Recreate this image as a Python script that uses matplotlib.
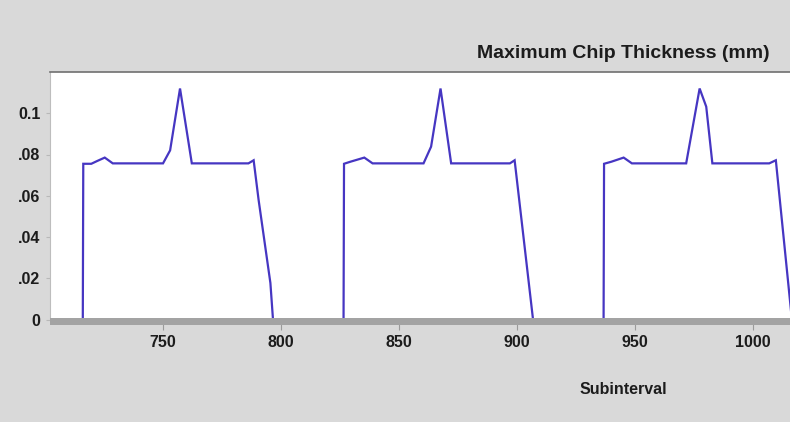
import matplotlib
matplotlib.use("Agg")
import matplotlib.pyplot as plt
from matplotlib.patches import Rectangle

# ---- data ----
cycle1_x = [716.0, 716.2, 719.6, 722.0, 725.3, 728.7, 750.0, 753.0, 757.2, 762.2, 786.2, 788.4, 790.5, 795.5, 796.6]
cycle1_y = [0.0, 0.0755, 0.0755, 0.0768, 0.0785, 0.0757, 0.0757, 0.0820, 0.1120, 0.0757, 0.0757, 0.0772, 0.0580, 0.0177, 0.0]

cycle2_x = [826.5, 826.7, 829.4, 835.3, 838.8, 860.4, 863.6, 867.6, 872.1, 897.0, 899.0, 906.8]
cycle2_y = [0.0, 0.0755, 0.0765, 0.0785, 0.0757, 0.0757, 0.0838, 0.1120, 0.0757, 0.0757, 0.0772, 0.0]

cycle3_x = [936.7, 936.9, 940.0, 945.2, 948.7, 971.7, 977.4, 980.2, 982.8, 1006.9, 1009.7, 1016.5]
cycle3_y = [0.0, 0.0755, 0.0765, 0.0785, 0.0757, 0.0757, 0.1120, 0.1032, 0.0757, 0.0757, 0.0772, 0.0]

x_ticks = [750, 800, 850, 900, 950, 1000]
x_tick_labels = ["750", "800", "850", "900", "950", "1000"]
y_ticks = [0.0, 0.02, 0.04, 0.06, 0.08, 0.1]
y_tick_labels = ["0", ".02", ".04", ".06", ".08", "0.1"]

title_text = "Maximum Chip Thickness (mm)"
xlabel_text = "Subinterval"

# ---- figure ----
W, H = 790, 422
fig = plt.figure(figsize=(W / 100, H / 100), dpi=100)
fig.patch.set_facecolor("#d9d9d9")

ax_left, ax_right, ax_top, ax_bottom = 50, 790, 72, 319.5
ax = fig.add_axes([ax_left / W, 1 - ax_bottom / H, (ax_right - ax_left) / W, (ax_bottom - ax_top) / H])
ax.set_facecolor("white")

xs = cycle1_x + cycle2_x + cycle3_x
ys = cycle1_y + cycle2_y + cycle3_y
ax.plot(xs, ys, color="#4636c2", lw=1.6, solid_joinstyle="miter", clip_on=True)

ax.set_xlim(702.1, 1015.7)
ax.set_ylim(0, 0.12)

font = dict(family="Liberation Sans", weight="bold")
ax.set_xticks(x_ticks)
ax.set_xticklabels(x_tick_labels, fontsize=11.5, color="#1c1c1c", **font)
ax.set_yticks(y_ticks)
ax.set_yticklabels(y_tick_labels, fontsize=11.5, color="#1c1c1c", **font)
ax.tick_params(axis="x", direction="out", length=7, width=0.8, color="#9a9a9a", pad=4)
ax.tick_params(axis="y", direction="out", length=3, width=0.8, color="#b8b8b8", pad=4)

ax.spines["right"].set_visible(False)
ax.spines["top"].set_color("#707070")
ax.spines["top"].set_linewidth(1.2)
ax.spines["left"].set_color("#bdbdbd")
ax.spines["left"].set_linewidth(0.8)
ax.spines["bottom"].set_visible(False)

# gray axis bar at the bottom of the plot area (covers the zero baseline)
fig.patches.append(Rectangle((ax_left / W, 1 - 325 / H), (ax_right - ax_left) / W, 6.8 / H,
                             transform=fig.transFigure, facecolor="#a3a3a3", edgecolor="none", zorder=3))

fig.text(770 / W, 1 - 53 / H, title_text, ha="right", va="center", fontsize=14, color="#1c1c1c", **font)
fig.text(623 / W, 1 - 390 / H, xlabel_text, ha="center", va="center", fontsize=11.5, color="#1c1c1c", **font)

fig.savefig("out.png", dpi=100, facecolor=fig.get_facecolor())
